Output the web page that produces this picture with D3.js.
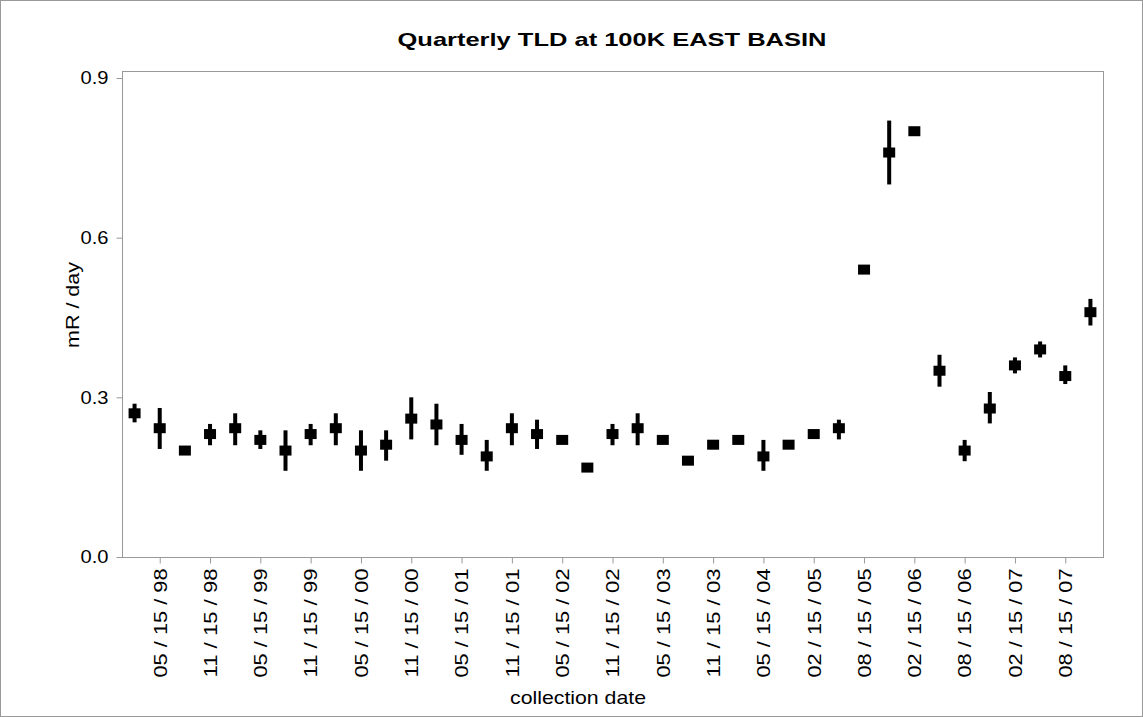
<!DOCTYPE html><html><head><meta charset="utf-8"><script src="https://cdn.jsdelivr.net/npm/d3@7"></script>
<style>body{margin:0;background:#fff}text{font-family:"Liberation Sans",Arial,sans-serif}</style></head><body>
<svg id="c" width="1143" height="717"></svg>
<script>
const dates=["02/15/98","05/15/98","08/15/98","11/15/98","02/15/99","05/15/99","08/15/99","11/15/99","02/15/00","05/15/00","08/15/00","11/15/00","02/15/01","05/15/01","08/15/01","11/15/01","02/15/02","05/15/02","08/15/02","11/15/02","02/15/03","05/15/03","08/15/03","11/15/03","02/15/04","05/15/04","11/15/04","02/15/05","05/15/05","08/15/05","11/15/05","02/15/06","05/15/06","08/15/06","11/15/06","02/15/07","05/15/07","08/15/07","11/15/07"];
const means=[0.27,0.242,0.20,0.231,0.242,0.22,0.20,0.231,0.242,0.20,0.211,0.26,0.249,0.22,0.189,0.242,0.231,0.22,0.168,0.231,0.242,0.22,0.181,0.211,0.22,0.189,0.211,0.231,0.242,0.54,0.76,0.80,0.35,0.20,0.279,0.36,0.39,0.34,0.46];
const lows=[0.253,0.203,0.195,0.21,0.21,0.203,0.162,0.21,0.21,0.162,0.181,0.221,0.21,0.192,0.162,0.21,0.203,0.215,0.163,0.21,0.21,0.215,0.176,0.206,0.215,0.162,0.206,0.226,0.221,0.535,0.70,0.795,0.32,0.18,0.251,0.345,0.375,0.325,0.435];
const highs=[0.288,0.28,0.205,0.25,0.27,0.238,0.238,0.25,0.27,0.238,0.238,0.30,0.288,0.25,0.22,0.27,0.258,0.225,0.173,0.25,0.27,0.225,0.186,0.216,0.225,0.22,0.216,0.236,0.258,0.545,0.82,0.805,0.38,0.22,0.31,0.375,0.405,0.36,0.485];
const yTicks=[0,0.3,0.6,0.9];
const labelled=dates.filter((d,i)=>i%2===1);
const svg=d3.select("#c");
svg.append("rect").attr("x",0.5).attr("y",0.5).attr("width",1142).attr("height",716).attr("fill","none").attr("stroke","#999");
const L=122,R=1103,T=71,B=557;
const x=d3.scalePoint().domain(dates).range([L,R]).padding(0.5);
const y=d3.scaleLinear().domain([0,0.9]).range([B,78]);
svg.append("rect").attr("x",L+0.5).attr("y",T+0.5).attr("width",R-L).attr("height",B-T).attr("fill","none").attr("stroke","#999");
const ya=svg.append("g").attr("transform",`translate(${L+0.5},0)`).call(d3.axisLeft(y).tickValues(yTicks).tickFormat(d3.format(".1f")).tickSize(6).tickPadding(8));
ya.select(".domain").remove();
ya.selectAll("line").attr("stroke","#999");
ya.selectAll("text").attr("font-size",18).attr("fill","#000").attr("font-family","Liberation Sans, Arial").attr("textLength",28).attr("lengthAdjust","spacingAndGlyphs");
const xa=svg.append("g").attr("transform",`translate(0,${B+0.5})`).call(d3.axisBottom(x).tickValues(labelled).tickSize(6).tickFormat(d=>d.replace(/\//g," / ")));
xa.select(".domain").remove();
xa.selectAll("line").attr("stroke","#999");
xa.selectAll("text").attr("font-size",18).attr("fill","#000").attr("font-family","Liberation Sans, Arial")
 .attr("transform","rotate(-90)").attr("text-anchor","end").attr("dx","-11").attr("dy","0.35em").attr("x",0).attr("y",0)
 .attr("textLength",109).attr("lengthAdjust","spacingAndGlyphs");
const g=svg.append("g");
dates.forEach((d,i)=>{
 g.append("rect").attr("x",x(d)-2).attr("y",y(highs[i])).attr("width",4).attr("height",y(lows[i])-y(highs[i])).attr("fill","#000");
 g.append("rect").attr("x",x(d)-6).attr("y",y(means[i])-5).attr("width",12).attr("height",10).attr("fill","#000");
});
svg.append("text").attr("x",612).attr("y",46).attr("text-anchor","middle").attr("font-size",19).attr("font-weight","bold").attr("textLength",429).attr("lengthAdjust","spacingAndGlyphs").text("Quarterly TLD at 100K EAST BASIN");
svg.append("text").attr("x",578).attr("y",704).attr("text-anchor","middle").attr("font-size",19).attr("textLength",136).attr("lengthAdjust","spacingAndGlyphs").text("collection date");
svg.append("text").attr("transform","translate(79,305) rotate(-90)").attr("text-anchor","middle").attr("font-size",19).attr("textLength",86).attr("lengthAdjust","spacingAndGlyphs").text("mR / day");
</script></body></html>
